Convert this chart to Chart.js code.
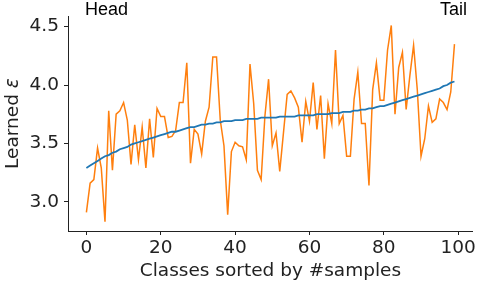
<!DOCTYPE html>
<html>
<head>
<meta charset="utf-8">
<script src="https://cdn.jsdelivr.net/npm/chart.js@4"></script>
<style>
  html, body { margin: 0; padding: 0; background: #fff; }
  #wrap { width: 478px; height: 284px; position: relative; }
</style>
</head>
<body>
<div id="wrap"><canvas id="chart"></canvas></div>
<script>
// Learned epsilon per class, classes sorted by number of samples (head -> tail).
const learnedEps = [
  2.91, 3.16, 3.19, 3.46, 3.29, 2.83, 3.78, 3.27, 3.75, 3.78,
  3.85, 3.70, 3.32, 3.66, 3.36, 3.64, 3.29, 3.71, 3.38, 3.80,
  3.73, 3.73, 3.55, 3.56, 3.61, 3.85, 3.85, 4.19, 3.33, 3.62,
  3.58, 3.41, 3.69, 3.81, 4.24, 4.24, 3.70, 3.48, 2.89, 3.43,
  3.51, 3.48, 3.47, 3.36, 4.18, 3.84, 3.27, 3.19, 3.73, 4.05,
  3.48, 3.59, 3.26, 3.59, 3.92, 3.95, 3.89, 3.81, 3.51, 3.86,
  3.69, 4.02, 3.62, 3.91, 3.37, 3.84, 3.67, 4.30, 3.67, 3.74,
  3.39, 3.39, 3.88, 4.11, 3.67, 3.67, 3.14, 3.96, 4.19, 3.87,
  3.87, 4.30, 4.51, 3.75, 4.15, 4.28, 3.79, 4.08, 4.34, 3.96,
  3.39, 3.54, 3.82, 3.68, 3.71, 3.88, 3.85, 3.79, 3.94, 4.35,
];
// Smooth trend (blue curve).
const trendEps = [
  3.29, 3.31, 3.33, 3.35, 3.37, 3.39, 3.40, 3.42, 3.43, 3.45,
  3.46, 3.47, 3.49, 3.50, 3.51, 3.52, 3.53, 3.54, 3.55, 3.56,
  3.57, 3.58, 3.59, 3.60, 3.60, 3.61, 3.62, 3.63, 3.64, 3.64,
  3.65, 3.66, 3.66, 3.67, 3.67, 3.68, 3.68, 3.69, 3.69, 3.69,
  3.70, 3.70, 3.70, 3.71, 3.71, 3.71, 3.71, 3.72, 3.72, 3.72,
  3.72, 3.72, 3.73, 3.73, 3.73, 3.73, 3.73, 3.74, 3.74, 3.74,
  3.74, 3.74, 3.75, 3.75, 3.75, 3.75, 3.76, 3.76, 3.76, 3.77,
  3.77, 3.77, 3.78, 3.78, 3.79, 3.79, 3.80, 3.80, 3.81, 3.82,
  3.82, 3.83, 3.84, 3.85, 3.86, 3.87, 3.88, 3.89, 3.90, 3.91,
  3.92, 3.93, 3.94, 3.95, 3.96, 3.97, 3.99, 4.00, 4.02, 4.03,
];
const xTicks = [0, 20, 40, 60, 80, 100];
const yTicks = [3.0, 3.5, 4.0, 4.5];
const classes = learnedEps.map((_, i) => i);

const AXIS_FONT = "'DejaVu Sans', sans-serif";
const FONT_SIZE = 18.5;
const INK = "#222";

// Y title with italic epsilon, plus the Head / Tail annotations.
const annotations = {
  id: "annotations",
  afterDraw(chart) {
    const { ctx, chartArea } = chart;
    ctx.save();
    ctx.fillStyle = "#000";
    ctx.font = "18px 'Liberation Sans', Arial, sans-serif";
    ctx.textBaseline = "alphabetic";
    ctx.textAlign = "left";
    ctx.fillText("Head", 85, 15);
    ctx.textAlign = "right";
    ctx.fillText("Tail", 467, 15);

    const midY = (chartArea.top + chartArea.bottom) / 2;
    ctx.translate(18, midY);
    ctx.rotate(-Math.PI / 2);
    ctx.fillStyle = INK;
    const a = "Learned ";
    const b = "ε";
    ctx.font = `${FONT_SIZE}px ${AXIS_FONT}`;
    const wa = ctx.measureText(a).width;
    ctx.font = `italic ${FONT_SIZE}px ${AXIS_FONT}`;
    const wb = ctx.measureText(b).width;
    const x = -(wa + wb) / 2;
    ctx.textAlign = "left";
    ctx.font = `${FONT_SIZE}px ${AXIS_FONT}`;
    ctx.fillText(a, x, 0);
    ctx.font = `italic ${FONT_SIZE}px ${AXIS_FONT}`;
    ctx.fillText(b, x + wa, 0);
    ctx.restore();
  },
};

new Chart(document.getElementById("chart"), {
  type: "line",
  data: {
    datasets: [
      {
        data: classes.map((c, i) => ({ x: c, y: trendEps[i] })),
        borderColor: "#1f77b4",
        borderWidth: 1.8,
        pointRadius: 0,
        tension: 0,
      },
      {
        data: classes.map((c, i) => ({ x: c, y: learnedEps[i] })),
        borderColor: "#ff7f0e",
        borderWidth: 1.5,
        pointRadius: 0,
        tension: 0,
      },
    ],
  },
  options: {
    responsive: true,
    maintainAspectRatio: false,
    animation: false,
    layout: { padding: { top: 3.5, right: 4, left: 0, bottom: 0 } },
    plugins: { legend: { display: false }, tooltip: { enabled: false } },
    scales: {
      x: {
        type: "linear",
        min: -4.95,
        max: 103.95,
        afterBuildTicks: (s) => { s.ticks = xTicks.map((v) => ({ value: v })); },
        afterFit: (s) => { s.height = 53; },
        grid: { display: true, drawOnChartArea: false, drawTicks: true, tickLength: 4, color: INK },
        border: { display: true, color: INK, width: 1 },
        ticks: { color: INK, font: { family: AXIS_FONT, size: FONT_SIZE }, padding: 2, maxRotation: 0 },
        title: {
          display: true,
          text: "Classes sorted by #samples",
          color: INK,
          font: { family: AXIS_FONT, size: FONT_SIZE },
          padding: { top: 0, bottom: 2 },
        },
      },
      y: {
        min: 2.75,
        max: 4.59,
        afterBuildTicks: (s) => { s.ticks = yTicks.map((v) => ({ value: v })); },
        afterFit: (s) => { s.width = 68; },
        grid: { display: true, drawOnChartArea: false, drawTicks: true, tickLength: 4, color: INK },
        border: { display: true, color: INK, width: 1 },
        ticks: {
          color: INK,
          font: { family: AXIS_FONT, size: FONT_SIZE },
          padding: 5,
          callback: (v) => v.toFixed(1),
        },
      },
    },
  },
  plugins: [annotations],
});
</script>
</body>
</html>
